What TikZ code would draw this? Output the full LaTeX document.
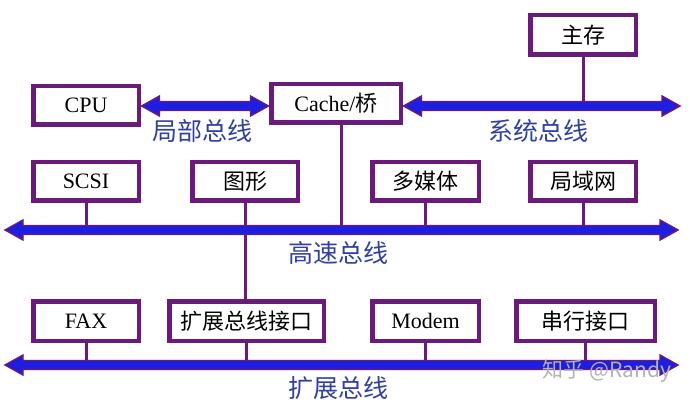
\documentclass[tikz,border=0pt]{standalone}
\usepackage{fontspec}
\setmainfont{Liberation Serif}
\newfontfamily\cjk{Noto Sans CJK SC}
\usetikzlibrary{calc}
\definecolor{pu}{HTML}{6A1A7A}
\definecolor{bl}{HTML}{1E1EE0}
\definecolor{lb}{HTML}{3040A0}
\tikzset{
  box/.style={draw=pu, line width=3pt, inner sep=0pt, minimum height=37pt, font=\fontsize{22}{24}\selectfont, text=black},
  conn/.style={draw=pu, line width=3pt},
  buslabel/.style={font=\cjk\fontsize{25}{27}\selectfont, text=lb, inner sep=0pt},
  bus/.style={draw=pu, fill=bl, line width=1.4pt, line join=miter,
    to path={let \p1=(\tikztostart), \p2=(\tikztotarget) in
      (\x1,\y1) -- (\x1+18pt,\y1+10pt) -- (\x1+18pt,\y1+4.5pt) -- (\x2-18pt,\y1+4.5pt)
      -- (\x2-18pt,\y1+10pt) -- (\x2,\y1) -- (\x2-18pt,\y1-10pt) -- (\x2-18pt,\y1-4.5pt)
      -- (\x1+18pt,\y1-4.5pt) -- (\x1+18pt,\y1-10pt) -- cycle}}
}
\begin{document}
\begin{tikzpicture}[x=1pt,y=-1pt]
\useasboundingbox[fill=white] (0,0) rectangle (690,403);
% boxes
\node[box, minimum width=104pt, minimum height=38pt] (mem) at (583,35) {{\cjk 主存}};
\node[box, minimum width=104pt] (cpu) at (86,105.5) {CPU};
\node[box, minimum width=128pt] (cache) at (336,103.5) {Cache/{\cjk 桥}};
\node[box, minimum width=104pt] (scsi) at (86,181.5) {SCSI};
\node[box, minimum width=104pt] (gfx) at (245,181.5) {{\cjk 图形}};
\node[box, minimum width=105pt] (mm) at (425.5,181.5) {{\cjk 多媒体}};
\node[box, minimum width=104pt] (lan) at (583,181.5) {{\cjk 局域网}};
\node[box, minimum width=104pt, minimum height=38pt] (fax) at (86,321) {FAX};
\node[box, minimum width=153pt, minimum height=38pt] (ebi) at (246.5,321) {{\cjk 扩展总线接口}};
\node[box, minimum width=105pt, minimum height=38pt] (modem) at (425.5,321) {Modem};
\node[box, minimum width=137pt, minimum height=38pt] (ser) at (585.5,321) {{\cjk 串行接口}};
% bus end coordinates
\coordinate (sysR) at (680,106);
\coordinate (hsL) at (5,230);
\coordinate (hsR) at (678,230);
\coordinate (exL) at (5,365);
\coordinate (exR) at (678,365);
% connectors
\draw[conn] (mem) -- (mem |- sysR);
\draw[conn] ([xshift=5pt]cache.south) -- ([xshift=5pt]cache.south |- hsL);
\draw[conn] (scsi) -- (scsi |- hsL);
\draw[conn] (gfx) -- (gfx |- ebi.north);
\draw[conn] (mm) -- (mm |- hsL);
\draw[conn] (lan) -- (lan |- hsL);
\draw[conn] (fax) -- (fax |- exL);
\draw[conn] (ebi) -- (ebi |- exL);
\draw[conn] (modem) -- (modem |- exL);
\draw[conn] (ser) -- (ser |- exL);
% redraw box borders on top of connectors
\foreach \n in {mem,cpu,cache,scsi,gfx,mm,lan,fax,ebi,modem,ser}
  \draw[pu, line width=3pt] (\n.south west) rectangle (\n.north east);
% buses
\draw[bus] ([xshift=2pt]cpu.east |- sysR) to ([xshift=-2pt]cache.west |- sysR);
\draw[bus] ([xshift=2pt]cache.east |- sysR) to (sysR);
\draw[bus] (hsL) to (hsR);
\draw[bus] (exL) to (exR);
% labels
\node[buslabel] (l1) at (202,131) {局部总线};
\node[buslabel] (l2) at (538,131) {系统总线};
\node[buslabel] (l3) at (338,253) {高速总线};
\node[buslabel] (l4) at (338,388) {扩展总线};
% watermark
\node[font=\cjk\fontsize{21}{23}\selectfont, text=gray!60, inner sep=0pt] (wm) at (607,371) {知乎 @Randy};
\end{tikzpicture}
\end{document}
